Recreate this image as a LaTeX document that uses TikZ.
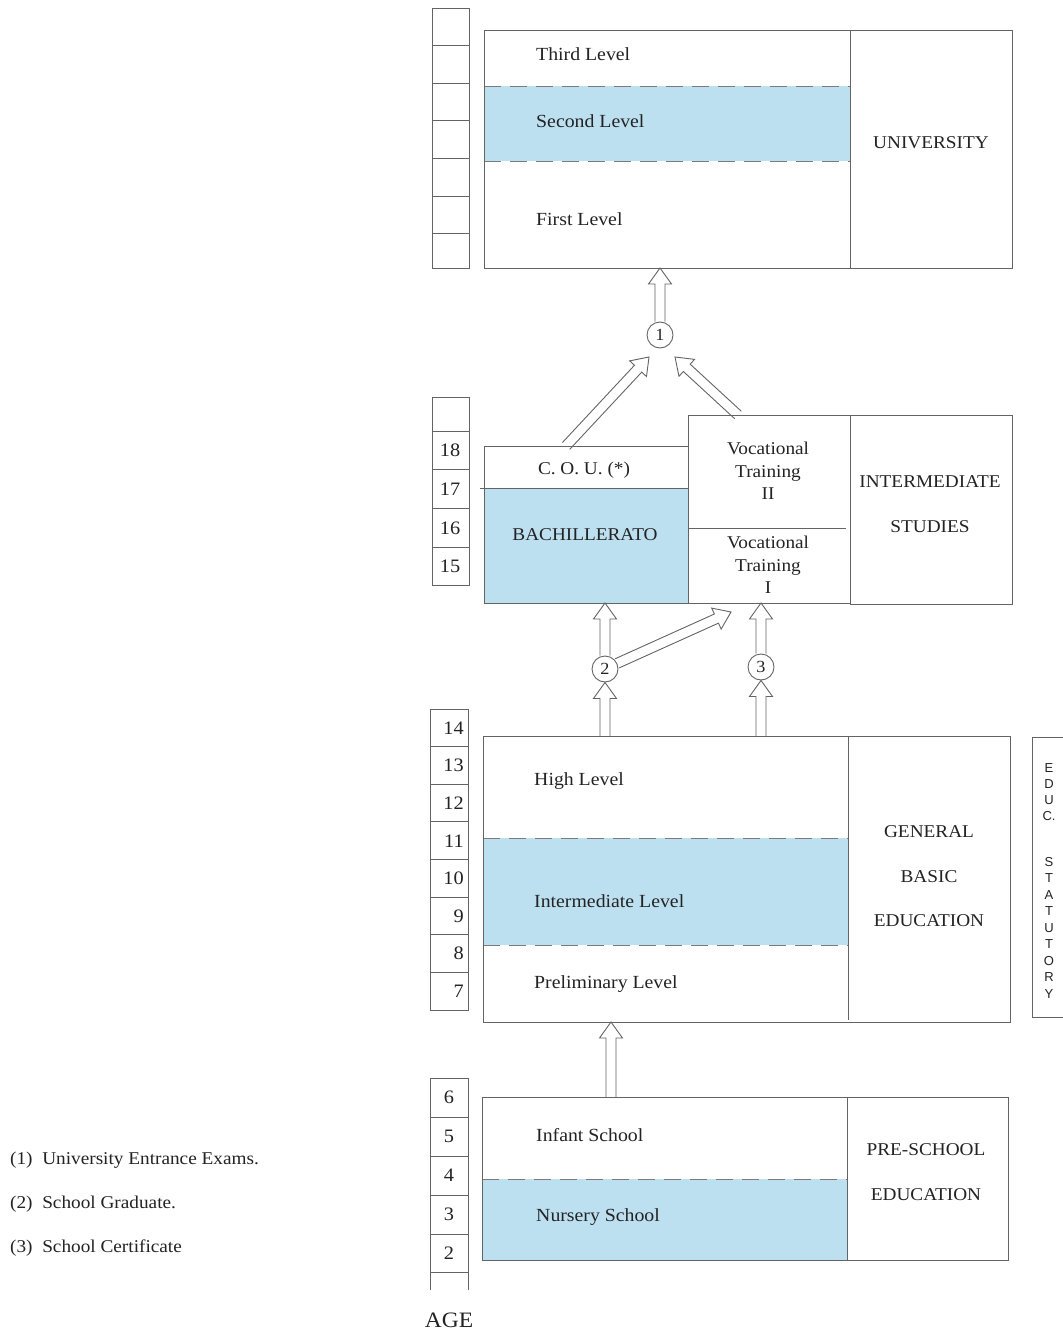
\documentclass[tikz,border=0pt]{standalone}
\usepackage{fontspec}
\setmainfont{Liberation Serif}[FakeStretch=1.07]
\newfontfamily\sansf{Liberation Sans}
\usetikzlibrary{calc}
\definecolor{lblue}{RGB}{189,224,241}
\definecolor{linec}{RGB}{100,100,100}
\definecolor{txtc}{RGB}{35,35,35}
\newcommand{\lblfont}{\fontsize{18.5}{22}\selectfont}
\tikzset{
  frame/.style={draw=linec, line width=0.9pt},
  boxnode/.style={frame, rectangle, inner sep=0pt, anchor=north west},
  dashline/.style={draw=linec!85, line width=0.9pt, dash pattern=on 17pt off 9pt},
  lbl/.style={font=\lblfont, text=txtc, anchor=west, inner sep=0pt},
  captext/.style={font=\fontsize{18}{22}\selectfont, text=txtc, inner sep=0pt, align=center},
  agenum/.style={font=\fontsize{19}{21}\selectfont, text=txtc, inner sep=0pt},
  statl/.style={font=\sansf\fontsize{13}{14}\selectfont, text=txtc, inner sep=0pt},
  legend/.style={font=\fontsize{18}{20}\selectfont, text=txtc, anchor=west, inner sep=0pt},
  numcirc/.style={circle, draw=linec, line width=0.9pt, minimum size=26pt, inner sep=0pt,
    font=\fontsize{17}{19}\selectfont, text=txtc, fill=white},
  harrow/.style={draw=linec, line width=0.9pt, line join=miter, to path={
    ($(\tikztostart)!5pt!90:(\tikztotarget)$) --
    ($(\tikztotarget)!16pt!(\tikztostart)!5pt!90:(\tikztotarget)$) --
    ($(\tikztotarget)!16pt!(\tikztostart)!11.5pt!90:(\tikztotarget)$) --
    (\tikztotarget) --
    ($(\tikztotarget)!16pt!(\tikztostart)!11.5pt!-90:(\tikztotarget)$) --
    ($(\tikztotarget)!16pt!(\tikztostart)!5pt!-90:(\tikztotarget)$) --
    ($(\tikztostart)!5pt!-90:(\tikztotarget)$)
  }},
}
\begin{document}
\begin{tikzpicture}[x=1pt,y=-1pt]
\useasboundingbox[fill=white] (0,0) rectangle (1062,1332);

% ===================== UNIVERSITY =====================
\draw[frame] (432,8) rectangle (469,268);
\foreach \y in {45,83,120,158,196,233} \draw[frame] (432,\y) -- (469,\y);
\fill[lblue] (484,86) rectangle (850,161);
\draw[dashline] (484,86) -- (850,86);
\draw[dashline] (484,161) -- (850,161);
\node[boxnode, minimum width=528pt, minimum height=238pt] (uni) at (484,30) {};
\draw[frame] (850,30) -- (850,268);
\node[lbl] (tl3) at (536,54) {Third Level};
\node[lbl] (tl2) at (536,121) {Second Level};
\node[lbl] (tl1) at (536,219) {First Level};
\node[captext] (unit) at (931,143) {UNIVERSITY};

% ===================== INTERMEDIATE =====================
\draw[frame] (432,397) rectangle (469,585);
\foreach \y in {431,469,508,547} \draw[frame] (432,\y) -- (469,\y);
\foreach \n/\y in {18/450,17/489,16/528,15/566} \node[agenum] (a\n) at (450,\y) {\n};
\fill[lblue] (484,488) rectangle (688,603);
\node[boxnode, minimum width=204pt, minimum height=157pt] (cou) at (484,446) {};
\draw[frame] (480,488) -- (688,488);
\node[boxnode, minimum width=162pt, minimum height=188pt] (voc) at (688,415) {};
\draw[frame] (688,528) -- (846,528);
\node[boxnode, minimum width=162pt, minimum height=189pt] (ist) at (850,415) {};
\node[captext] (tcou) at (584,470) {C. O. U. (*)};
\node[captext] (tbach) at (585,535) {BACHILLERATO};
\node[captext, font=\fontsize{18}{22.5}\selectfont] (tvoc2) at (768,471) {Vocational\\Training\\II};
\node[captext, font=\fontsize{18}{22.5}\selectfont] (tvoc1) at (768,565) {Vocational\\Training\\I};
\node[captext] (tint) at (930,482) {INTERMEDIATE};
\node[captext] (tstu) at (930,527) {STUDIES};

% ===================== GENERAL BASIC =====================
\draw[frame] (430,709) rectangle (468,1010);
\foreach \i in {1,...,7} \draw[frame] (430,{709+37.625*\i}) -- (468,{709+37.625*\i});
\foreach \n [count=\i from 0] in {14,13,12,11,10,9,8,7}
  \node[agenum, anchor=east] (b\n) at (464,{728+37.625*\i}) {\n};
\fill[lblue] (483,838) rectangle (848,945);
\draw[dashline] (483,838) -- (848,838);
\draw[dashline] (483,945) -- (848,945);
\node[boxnode, minimum width=527pt, minimum height=286pt] (gbe) at (483,736) {};
\draw[frame] (848,736) -- (848,1020);
\node[lbl] (th) at (534,781) {High Level};
\node[lbl] (tm) at (534,901) {Intermediate Level};
\node[lbl] (tp) at (534,984) {Preliminary Level};
\node[captext] (tg1) at (929,832) {GENERAL};
\node[captext] (tg2) at (929,877) {BASIC};
\node[captext] (tg3) at (929,921) {EDUCATION};
% statutory
\node[boxnode, minimum width=40pt, minimum height=280pt] (stat) at (1032,737) {};
\foreach \l [count=\i from 0] in {E,D,U,C.}
  \node[statl] (se\i) at (1049,{768+16*\i}) {\l};
\foreach \l [count=\i from 0] in {S,T,A,T,U,T,O,R,Y}
  \node[statl] (ss\i) at (1049,{862+16.5*\i}) {\l};

% ===================== PRE-SCHOOL =====================
\draw[frame] (430,1078) -- (468,1078);
\draw[frame] (430,1078) -- (430,1290);
\draw[frame] (468,1078) -- (468,1290);
\foreach \y in {1117,1156,1195,1234,1272} \draw[frame] (430,\y) -- (468,\y);
\foreach \n/\y in {6/1097.5,5/1136.5,4/1175.5,3/1214.5,2/1253}
  \node[agenum] (p\n) at (449,\y) {\n};
\fill[lblue] (482,1179) rectangle (847,1260);
\draw[dashline] (482,1179) -- (847,1179);
\node[boxnode, minimum width=526pt, minimum height=163pt] (pre) at (482,1097) {};
\draw[frame] (847,1097) -- (847,1260);
\node[lbl] (tinf) at (536,1135) {Infant School};
\node[lbl] (tnur) at (536,1217) {Nursery School};
\node[captext] (tps1) at (926,1150) {PRE-SCHOOL};
\node[captext] (tps2) at (926,1195) {EDUCATION};
\node[font=\fontsize{22}{24}\selectfont, text=txtc, inner sep=0pt] (age) at (449,1320) {AGE};

% ===================== LEGEND =====================
\node[legend] (lg1) at (10,1160) {(1)\ \ University Entrance Exams.};
\node[legend] (lg2) at (10,1204) {(2)\ \ School Graduate.};
\node[legend] (lg3) at (10,1248) {(3)\ \ School Certificate};

% ===================== CONNECTORS =====================
\node[numcirc] (c1) at (660,335) {1};
\node[numcirc] (c2) at (605,669) {2};
\node[numcirc] (c3) at (761,667) {3};
\coordinate (u1) at (660,268);
\coordinate (couT) at (566,446);
\coordinate (tipL) at (649,357);
\coordinate (vocT) at (738,415);
\coordinate (tipR) at (675,357);
\coordinate (b2) at (605,603);
\coordinate (g2) at (605,736);
\coordinate (tip2) at (731,612);
\coordinate (b3) at (761,603);
\coordinate (g3) at (761,736);
\coordinate (gb) at (611,1022);
\coordinate (pt) at (611,1097);
\draw[harrow] (c1.north) to (u1);
\draw[harrow] (couT) to (tipL);
\draw[harrow] (vocT) to (tipR);
\draw[harrow] (c2.north) to (b2);
\draw[harrow] (g2) to (c2.south);
\draw[harrow] (c2.25) to (tip2);
\draw[harrow] (c3.north) to (b3);
\draw[harrow] (g3) to (c3.south);
\draw[harrow] (pt) to (gb);
\end{tikzpicture}
\end{document}
